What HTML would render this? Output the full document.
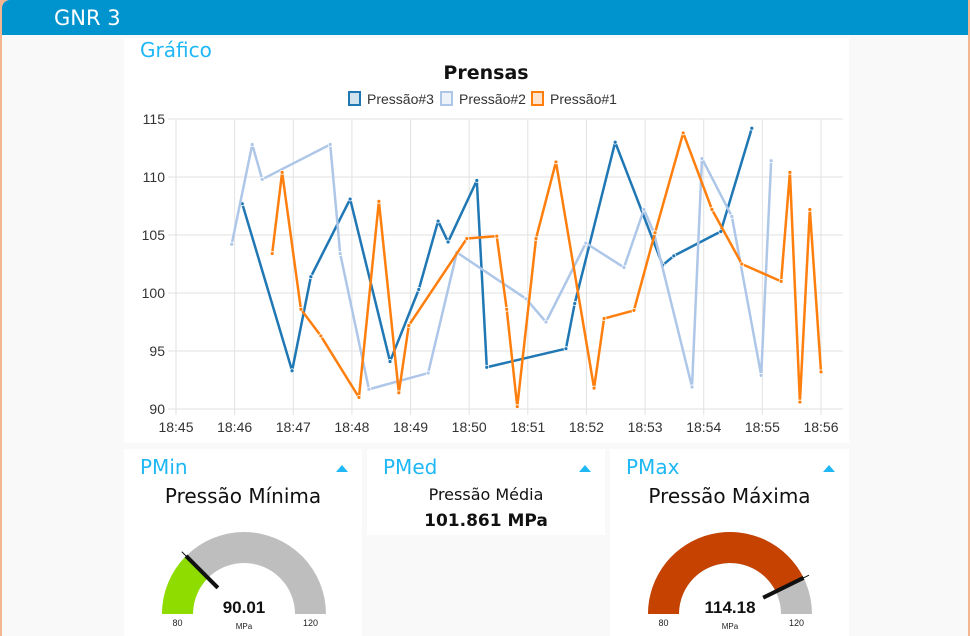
<!DOCTYPE html>
<html><head><meta charset="utf-8">
<style>
*{margin:0;padding:0;box-sizing:border-box}
body{width:970px;height:636px;overflow:hidden;background:#f4b690;font-family:"Liberation Sans","DejaVu Sans",sans-serif;position:relative}
#page{position:absolute;left:2px;top:0;width:966px;height:636px;background:#f9f9f9;border-top-left-radius:8px;overflow:hidden}
#topbar{position:absolute;left:0;top:0;width:966px;height:35px;background:#0094ce;color:#fff;font-size:21px;line-height:36px;padding-left:52px;font-family:"DejaVu Sans","Liberation Sans",sans-serif}
.card{position:absolute;background:#fff}
.ctitle{position:absolute;left:16px;top:6px;color:#1fb8f5;font-size:20px;font-family:"DejaVu Sans","Liberation Sans",sans-serif}
.caret{position:absolute;right:14px;top:16px;width:0;height:0;border-left:6px solid transparent;border-right:6px solid transparent;border-bottom:7px solid #1fb8f5}
.sub{position:absolute;left:0;width:100%;text-align:center;color:#111;font-family:"DejaVu Sans","Liberation Sans",sans-serif}
</style></head><body>
<div id="page">
<div id="topbar"><span>GNR 3</span></div>

<div class="card" style="left:122px;top:38px;width:725px;height:405px">
<div class="ctitle" style="top:0px">Gráfico</div>
</div>
<svg id="chart" width="970" height="636" style="position:absolute;left:-2px;top:0"></svg>

<div class="card" style="left:122px;top:449px;width:238px;height:187px">
<div class="ctitle">PMin</div><div class="caret"></div>
<div class="sub" style="top:35px;font-size:20px">Pressão Mínima</div>
</div>
<div class="card" style="left:365px;top:449px;width:238px;height:86px">
<div class="ctitle">PMed</div><div class="caret"></div>
<div class="sub" style="top:36px;font-size:16px">Pressão Média</div>
<div class="sub" style="top:62px;font-size:17px;font-weight:bold;font-family:'DejaVu Sans',sans-serif">101.861 MPa</div>
</div>
<div class="card" style="left:608px;top:449px;width:239px;height:187px">
<div class="ctitle">PMax</div><div class="caret"></div>
<div class="sub" style="top:35px;font-size:20px">Pressão Máxima</div>
</div>
<svg id="gauges" width="970" height="636" style="position:absolute;left:-2px;top:0"></svg>
</div>
<script>
const s3x=[46.13,46.98,47.30,47.97,48.65,49.14,49.47,49.64,50.13,50.30,51.65,51.80,52.49,53.30,53.49,54.29,54.82];
const s3y=[107.7,93.3,101.4,108.1,94.1,100.3,106.2,104.4,109.7,93.6,95.2,99.1,113.0,102.4,103.2,105.3,114.2];
const s2x=[45.95,46.30,46.47,47.63,47.80,48.29,49.30,49.79,50.97,51.31,51.99,52.64,52.98,53.15,53.80,53.97,54.48,54.98,55.15];
const s2y=[104.2,112.8,109.8,112.8,103.4,91.7,93.1,103.5,99.5,97.5,104.3,102.2,107.2,105.2,91.9,111.6,106.6,92.9,111.4];
const s1x=[46.64,46.81,47.13,47.47,48.12,48.46,48.80,48.97,49.96,50.47,50.64,50.82,51.14,51.48,52.13,52.30,52.81,53.17,53.65,54.14,54.65,55.32,55.47,55.64,55.81,56.00];
const s1y=[103.4,110.4,98.6,96.3,91.0,107.9,91.4,97.2,104.7,104.9,98.6,90.2,104.7,111.3,91.8,97.8,98.5,105.2,113.8,107.2,102.5,101.0,110.4,90.6,107.2,93.2];
const xTicks=[45,46,47,48,49,50,51,52,53,54,55,56];
const yTicks=[90,95,100,105,110,115];
const seriesNames=["Pressão#3","Pressão#2","Pressão#1"];
const gaugeMin=[80,120,90.01];
const gaugeMax=[80,120,114.18];

const NS="http://www.w3.org/2000/svg";
const svg=document.getElementById('chart');
function mk(t,a,p){const e=document.createElementNS(NS,t);for(const k in a)e.setAttribute(k,a[k]);(p||svg).appendChild(e);return e;}
const X0=176,X1=821,Y0=409,Y1=119;
const xs=m=>X0+(m-45)/(56-45)*(X1-X0);
const ys=v=>Y0-(v-90)/(115-90)*(Y0-Y1);
let t=mk('text',{x:486,y:79,'text-anchor':'middle','font-size':19,'font-weight':'bold',fill:'#111','font-family':'DejaVu Sans,Liberation Sans,sans-serif'});t.textContent='Prensas';


yTicks.forEach(v=>{const l=mk('line',{x1:168,x2:843,y1:ys(v),y2:ys(v),stroke:'#e2e2e2','stroke-width':1});


const tx=mk('text',{x:165,y:ys(v)+5,'text-anchor':'end','font-size':14,fill:'#333'});tx.textContent=v;

});
xTicks.forEach(m=>{const l=mk('line',{x1:xs(m),x2:xs(m),y1:Y1,y2:Y0+6,stroke:'#e2e2e2','stroke-width':1});


const tx=mk('text',{x:xs(m),y:432,'text-anchor':'middle','font-size':14,fill:'#333'});tx.textContent='18:'+m;

});
const cols=['#1f77b4','#aec7e8','#ff7f0e'];const fills=['#d2e3f0','#eef3fa','#ffe4cf'];
[[s3x,s3y],[s2x,s2y],[s1x,s1y]].forEach((s,i)=>{
const p=mk('polyline',{points:s[0].map((x,j)=>xs(x)+','+ys(s[1][j])).join(' '),fill:'none',stroke:cols[i],'stroke-width':2.5,'stroke-linejoin':'round'});


s[0].forEach((x,j)=>{const c=mk('circle',{cx:xs(x),cy:ys(s[1][j]),r:2,fill:cols[i],stroke:'#fff','stroke-width':0.8});

});});
const lx=[349,441,532];
seriesNames.forEach((n,i)=>{const g=mk('g',{});


mk('rect',{x:lx[i],y:92,width:11,height:13,fill:fills[i],stroke:cols[i],'stroke-width':2},g);
const tx=mk('text',{x:lx[i]+18,y:104,'font-size':14,fill:'#333'},g);tx.textContent=n;});

const gs=document.getElementById('gauges');
function gauge(cx,cy,val,mn,mx,col,nm){
const R=82,r=51;const fr=(val-mn)/(mx-mn);const a=Math.PI*(1-fr);
const pt=(rad,ang)=>[cx+rad*Math.cos(ang),cy-rad*Math.sin(ang)];
const arc=(a0,a1,c)=>{const [x1,y1]=pt(R,a0),[x2,y2]=pt(R,a1),[x3,y3]=pt(r,a1),[x4,y4]=pt(r,a0);
const e=mk('path',{d:`M${x1},${y1} A${R},${R} 0 0 1 ${x2},${y2} L${x3},${y3} A${r},${r} 0 0 0 ${x4},${y4}Z`,fill:c},gs);return e;};
const bg=arc(Math.PI,0,'#bebebe');
const fg=arc(Math.PI,a,col);
const [n1x,n1y]=pt(R+6,a),[n2x,n2y]=pt(r-14,a);
const nd=mk('line',{x1:n1x,y1:n1y,x2:n2x,y2:n2y,stroke:'#111','stroke-width':1},gs);

const [m1x,m1y]=pt(R,a);mk('line',{x1:m1x,y1:m1y,x2:n2x,y2:n2y,stroke:'#111','stroke-width':4},gs);
let tx=mk('text',{x:cx,y:cy-1,'text-anchor':'middle','font-size':17,'font-weight':'bold',fill:'#111'},gs);tx.textContent=val.toFixed(2);

tx=mk('text',{x:cx,y:cy+15,'text-anchor':'middle','font-size':8,fill:'#222'},gs);tx.textContent='MPa';

tx=mk('text',{x:cx-(R+r)/2,y:cy+12,'text-anchor':'middle','font-size':9,fill:'#222'},gs);tx.textContent=mn;

tx=mk('text',{x:cx+(R+r)/2,y:cy+12,'text-anchor':'middle','font-size':9,fill:'#222'},gs);tx.textContent=mx;
}
gauge(244,614,gaugeMin[2],gaugeMin[0],gaugeMin[1],'#8fdc00','pmin-gauge');
gauge(730,614,gaugeMax[2],gaugeMax[0],gaugeMax[1],'#c64200','pmax-gauge');
</script>
</body></html>
